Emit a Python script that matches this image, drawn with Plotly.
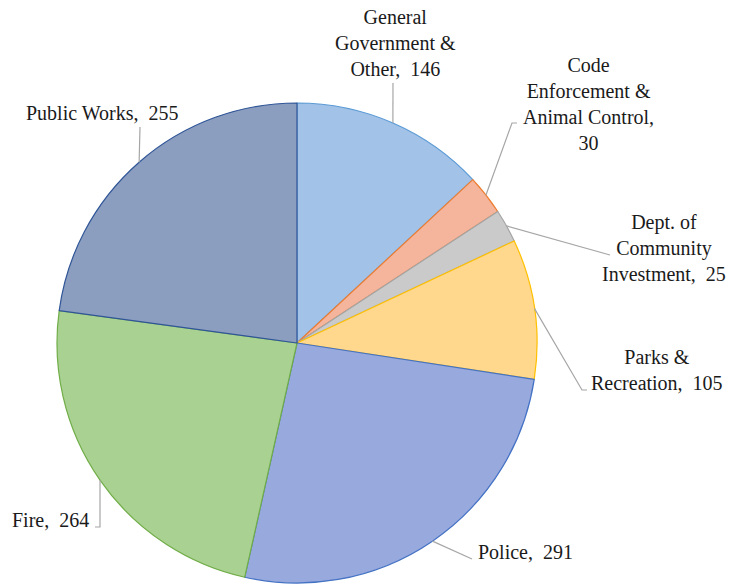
import numpy as np
import plotly.graph_objects as go

categories = ["General Government & Other", "Code Enforcement & Animal Control",
              "Dept. of Community Investment", "Parks & Recreation",
              "Police", "Fire", "Public Works"]
values = [146, 30, 25, 105, 291, 264, 255]
label_text = ["General<br>Government &amp;<br>Other,\u00a0 146",
              "Code<br>Enforcement &amp;<br>Animal Control,<br>30",
              "Dept. of<br>Community<br>Investment,\u00a0 25",
              "Parks &amp;<br>Recreation,\u00a0 105",
              "Police,\u00a0 291",
              "Fire,\u00a0 264",
              "Public Works,\u00a0 255"]
fill_colors = ["#a3c2e7", "#f5b59c", "#cacaca", "#ffd78d", "#98a9dd", "#a9d192", "#8c9ebf"]
line_colors = ["#5b9bd5", "#ed7d31", "#a5a5a5", "#ffc000", "#4472c4", "#70ad47", "#2f5597"]

W, H = 734, 585
CX, CY, R = 297, 343, 240  # pie centre / radius in pixels

# label block centres (pixels) and leader-line elbow points (pixels)
label_pos = [(395, 43), (588, 104), (664, 248), (657, 370), (525, 552), (50, 520), (102, 113)]
elbows = [[(393, 83)],
          [(512, 123), (517, 123)],
          [(610, 255)],
          [(582, 390), (587, 390)],
          [(472, 559)],
          [(100, 527), (95, 527)],
          [(140, 127)]]

def px(x):
    return x / W

def py(y):
    return 1 - y / H

fig = go.Figure(go.Pie(
    labels=categories, values=values, sort=False, direction="clockwise",
    rotation=0, textinfo="none", hoverinfo="label+value",
    marker=dict(colors=fill_colors, line=dict(color=line_colors, width=1.2)),
    domain=dict(x=[px(CX - R), px(CX + R)], y=[py(CY + R), py(CY - R)]),
    showlegend=False,
))

total = float(np.sum(values))
cum = np.cumsum([0] + values)
shapes = []
annotations = []
for i, v in enumerate(values):
    mid = (cum[i] + v / 2) / total * 2 * np.pi
    ex = CX + R * np.sin(mid)
    ey = CY - R * np.cos(mid)
    pts = [(ex, ey)] + elbows[i]
    path = "M " + " L ".join(f"{px(a):.5f},{py(b):.5f}" for a, b in pts)
    shapes.append(dict(type="path", path=path, xref="paper", yref="paper",
                       line=dict(color="#a6a6a6", width=1.2)))
    lx, ly = label_pos[i]
    annotations.append(dict(text=label_text[i], x=px(lx), y=py(ly), xref="paper", yref="paper",
                            xanchor="center", yanchor="middle", showarrow=False, align="center",
                            font=dict(family="Liberation Serif, serif", size=20, color="#1a1a1a")))

fig.update_layout(width=W, height=H, margin=dict(l=0, r=0, t=0, b=0),
                  paper_bgcolor="white", plot_bgcolor="white",
                  shapes=shapes, annotations=annotations)
fig.write_html("out.html", config={"displayModeBar": False},
               post_script="document.body.style.margin='0';")
